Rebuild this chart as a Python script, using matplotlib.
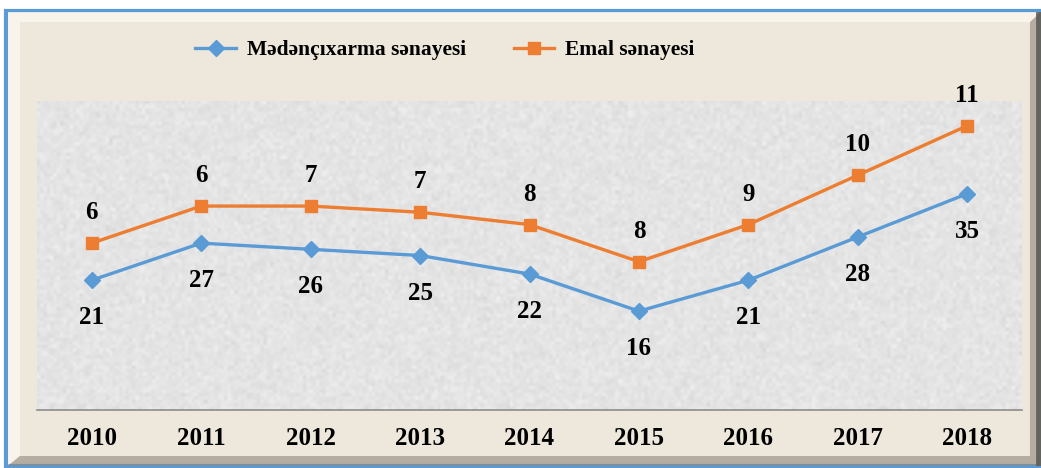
import matplotlib.pyplot as plt
import matplotlib.patches as mpatches
import numpy as np

years = ['2010', '2011', '2012', '2013', '2014', '2015', '2016', '2017', '2018']
medenchixarma = [21, 27, 26, 25, 22, 16, 21, 28, 35]
emal = [6, 6, 7, 7, 8, 8, 9, 10, 11]
names = ['Mədənçıxarma sənayesi', 'Emal sənayesi']

blue = '#5b9bd5'
orange = '#ed7d31'
W, H = 1041, 468

plt.rcParams['font.family'] = ['Liberation Serif', 'DejaVu Serif']
plt.rcParams['font.weight'] = 'bold'

fig = plt.figure(figsize=(W / 100, H / 100), dpi=100, facecolor='white')

# frame: blue border, beige panel with bevel
fig.patches.append(mpatches.Rectangle((6 / W, 1 - 466 / H), 1033 / W, 455 / H,
                                      transform=fig.transFigure,
                                      facecolor='#eee8dc', edgecolor=blue, lw=3))

# texture on the beige panel
bg = fig.add_axes([9 / W, 1 - 463 / H, 1025 / W, 451 / H], zorder=0)
rng = np.random.default_rng(3)
noise = rng.normal(0, 1, (150, 340))
bg.imshow(noise, cmap='Greys', vmin=-6, vmax=6, alpha=0.12, aspect='auto',
          interpolation='bilinear')
bg.set_axis_off()

def fp(pts):
    return [(a / W, 1 - b / H) for a, b in pts]

# bevel: light top and left, dark bottom and right
fig.patches.append(mpatches.Polygon(fp([(8, 465), (8, 12), (1040, 12), (1030, 22),
                                        (20, 22), (20, 455)]),
                                    closed=True, transform=fig.transFigure,
                                    facecolor='#faf7f0', edgecolor='none', alpha=0.85, zorder=1))
fig.patches.append(mpatches.Polygon(fp([(8, 466), (1041, 466), (1041, 12), (1030, 22),
                                        (1030, 456), (20, 456)]),
                                    closed=True, transform=fig.transFigure,
                                    facecolor='#8f877c', edgecolor='none', alpha=0.6, zorder=1))
fig.patches.append(mpatches.Rectangle((1036 / W, 1 - 466 / H), 5 / W, 454 / H,
                                      transform=fig.transFigure, facecolor='#5e5850',
                                      edgecolor='none', alpha=0.8, zorder=1))

# plot area
ax = fig.add_axes([37 / W, 1 - 410 / H, 985 / W, 309 / H], zorder=2)
ax.set_facecolor('#f2f2f2')
ax.imshow(rng.normal(0, 1, (90, 300)), cmap='Greys', vmin=-5, vmax=5, alpha=0.15,
          aspect='auto', interpolation='bilinear',
          extent=(-0.5, 8.5, 0, 50), zorder=0)

x = np.arange(len(years))
stacked = np.array(medenchixarma) + np.array(emal)

ax.plot(x, medenchixarma, color=blue, lw=2.4, marker='D', ms=8, label=names[0], zorder=3)
ax.plot(x, stacked, color=orange, lw=2.4, marker='s', ms=9, label=names[1], zorder=3)

for i in range(len(years)):
    ax.annotate(str(medenchixarma[i]), (x[i], medenchixarma[i]), xytext=(0, -27),
                textcoords='offset points', ha='center', va='center', fontsize=18,
                fontweight='bold')
    ax.annotate(str(emal[i]), (x[i], stacked[i]), xytext=(0, 22),
                textcoords='offset points', ha='center', va='center', fontsize=18,
                fontweight='bold', annotation_clip=False)

ax.set_xlim(-0.5, 8.5)
ax.set_ylim(0, 50)
ax.set_xticks(x)
ax.set_xticklabels(years, fontsize=18, fontweight='bold')
ax.tick_params(axis='x', length=0, pad=12)
ax.set_yticks([])
for s in ['top', 'left', 'right']:
    ax.spines[s].set_visible(False)
ax.spines['bottom'].set_color('#8c8c8c')
ax.spines['bottom'].set_linewidth(1.2)

fig.legend(loc='center', bbox_to_anchor=(445 / W, 1 - 50 / H), ncol=2, frameon=False,
           prop={'size': 15.5, 'weight': 'bold'}, handlelength=1.9, columnspacing=2.2,
           handletextpad=0.5)

fig.savefig('out.png', dpi=100, facecolor=fig.get_facecolor())
